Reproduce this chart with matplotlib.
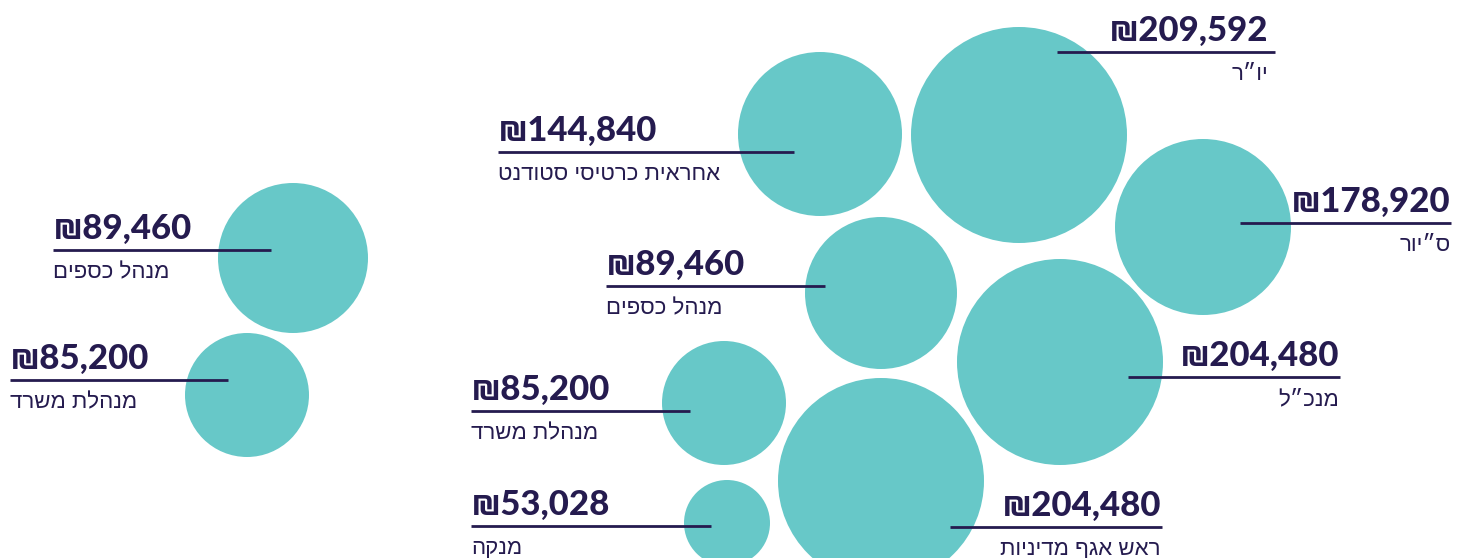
import matplotlib
matplotlib.use("Agg")
import matplotlib.pyplot as plt
from matplotlib.patches import Circle

# ---- data ----
values = [89460, 85200, 144840, 209592, 178920, 89460, 204480, 85200, 204480, 53028]
roles = ["מנהל כספים", "מנהלת משרד", "אחראית כרטיסי סטודנט", "יו״ר", "ס״יור",
         "מנהל כספים", "מנכ״ל", "מנהלת משרד", "ראש אגף מדיניות", "מנקה"]

# ---- layout (pixel coordinates, y downwards) ----
circle_x = [293, 247, 820, 1019, 1203, 881, 1060, 724, 881, 727]
circle_y = [258, 395, 134, 135, 227, 293, 362, 403, 481, 523]
circle_r = [75, 62, 82, 108, 88, 76, 103, 62, 103, 43]
line_x0 = [53, 10, 498, 1057, 1240, 606, 1128, 471, 950, 471]
line_x1 = [271, 228, 794, 1275, 1451, 825, 1340, 690, 1162, 711]
line_y = [250, 380, 152, 52, 223, 286, 377, 411, 527, 526]
text_x = [53, 10, 498, 1268, 1451, 606, 1339, 471, 1161, 471]
text_ha = ["left", "left", "left", "right", "right", "left", "right", "left", "right", "left"]

TEAL = "#67c8c8"
NAVY = "#251b4f"


def visual(s):
    # matplotlib lays text out left-to-right; Hebrew reads right-to-left
    return s[::-1]


W, H = 1465, 558
fig = plt.figure(figsize=(W / 100, H / 100), dpi=100)
ax = fig.add_axes([0, 0, 1, 1])
ax.set_xlim(0, W)
ax.set_ylim(H, 0)
ax.set_aspect("equal")
ax.axis("off")

for i, v in enumerate(values):
    ax.add_patch(Circle((circle_x[i], circle_y[i]), circle_r[i], color=TEAL, lw=0, zorder=1))
    ax.plot([line_x0[i], line_x1[i]], [line_y[i], line_y[i]], color=NAVY, lw=2, zorder=3,
            solid_capstyle="butt")
    ax.text(text_x[i], line_y[i] - 11, "₪" + f"{v:,}", ha=text_ha[i], va="baseline",
            fontsize=25, fontweight="black", color=NAVY,
            family=["Lato", "DejaVu Sans"], zorder=4)
    ax.text(text_x[i], line_y[i] + 28, visual(roles[i]), ha=text_ha[i], va="baseline",
            fontsize=16, fontweight="normal", color=NAVY,
            family=["Liberation Sans", "DejaVu Sans"], zorder=4)

fig.savefig("out.png", dpi=100, facecolor="white")
